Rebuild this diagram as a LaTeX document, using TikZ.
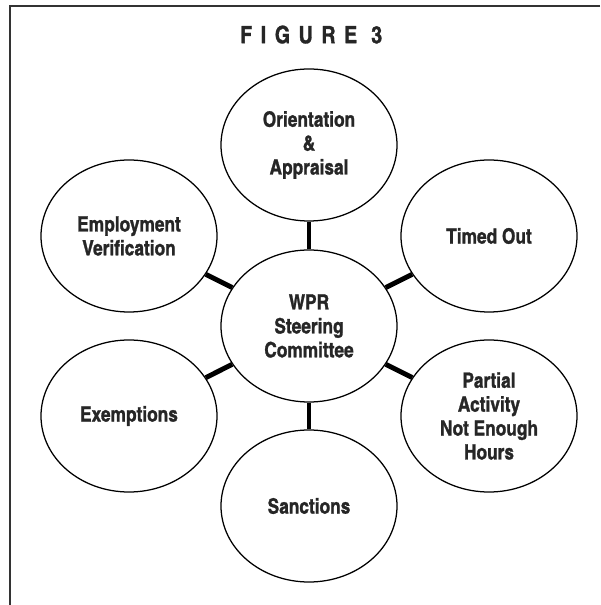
\documentclass[tikz,border=0pt]{standalone}
\usepackage{fontspec}
\usetikzlibrary{shapes.geometric}
\newfontfamily\cnfont[FakeBold=1.2]{texgyreheroscn-bold.otf}
\newfontfamily\titlefont[LetterSpace=36, FakeBold=1.2]{texgyreheroscn-bold.otf}

\begin{document}
\begin{tikzpicture}[every node/.style={font=\cnfont\fontsize{15}{17}\selectfont, text=black!85}]
    \useasboundingbox (0,0) rectangle (15,15.125);

    % Frame
    \draw[line width=1.4pt, black!80] (15,14.975) -- (0.25,14.975) -- (0.25,0);

    % Title
    \node[font=\titlefont\fontsize{17}{20}\selectfont] (title) at (7.78,14.26) {FIGURE 3};

    % Centre
    \node[ellipse, draw, line width=0.9pt, minimum width=4.4cm, minimum height=3.8cm, align=center] (WPR) at (7.725,6.975) {WPR\\Steering\\Committee};

    % Outer topics
    \foreach \x/\y/\name/\txt in {7.725/11.5/OA/{Orientation\\\&\\Appraisal}, 12.225/9.225/TO/{Timed Out}, 12.225/4.725/PA/{Partial\\Activity\\Not Enough\\Hours}, 7.725/2.475/SA/{Sanctions}, 3.225/4.725/EX/{Exemptions}, 3.225/9.225/EV/{Employment\\Verification}} {
        \node[ellipse, draw, line width=0.9pt, minimum width=4.4cm, minimum height=3.8cm, align=center] (\name) at (\x,\y) {\txt};
    }

    % Links
    \foreach \name in {OA, TO, PA, SA, EX, EV} {
        \draw[line width=3.5pt] (WPR) -- (\name);
    }

\end{tikzpicture}
\end{document}
